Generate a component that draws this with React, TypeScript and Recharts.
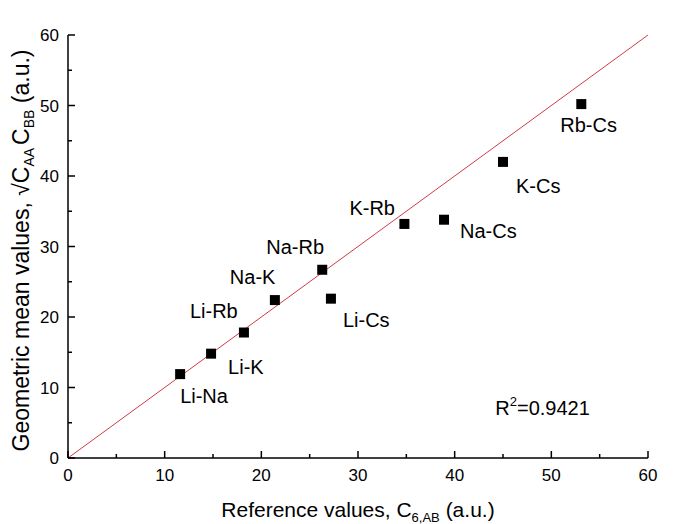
import React from "react";
import { ScatterChart, Scatter, XAxis, YAxis, ZAxis, ReferenceLine, ReferenceDot, Label } from "recharts";

const pairs = ["Li-Na", "Li-K", "Li-Rb", "Na-K", "Na-Rb", "Li-Cs", "K-Rb", "Na-Cs", "K-Cs", "Rb-Cs"];
const referenceValues = [11.6, 14.8, 18.2, 21.4, 26.3, 27.2, 34.8, 38.9, 45.0, 53.1];
const geometricMeans = [11.9, 14.8, 17.8, 22.4, 26.7, 22.6, 33.2, 33.8, 42.0, 50.2];
const axisTicks = [0, 5, 10, 15, 20, 25, 30, 35, 40, 45, 50, 55, 60];
const r2Value = "0.9421";

const points = pairs.map((name, i) => ({ name, x: referenceValues[i], y: geometricMeans[i] }));

const FONT = '"Liberation Sans", Arial, sans-serif';

// where each pair label sits relative to its marker (px, text start / baseline)
const labelOffset: Record<string, [number, number]> = {
  "Li-Na": [0, 29],
  "Li-K": [17, 20],
  "Li-Rb": [-54, -15],
  "Na-K": [-45, -16],
  "Na-Rb": [-56, -16],
  "Li-Cs": [12, 28],
  "K-Rb": [-55, -9],
  "Na-Cs": [16, 18],
  "K-Cs": [13, 31],
  "Rb-Cs": [-21, 28],
};

const PointWithLabel = (props: any) => {
  const { cx, cy, payload } = props;
  const [dx, dy] = labelOffset[payload.name] ?? [8, -8];
  return (
    <g>
      <rect x={cx - 5} y={cy - 5} width={10} height={10} fill="#000" />
      <text x={cx + dx} y={cy + dy} fontSize={20} fontFamily={FONT} fill="#000">
        {payload.name}
      </text>
    </g>
  );
};

const isMajor = (v: number) => v % 10 === 0;

const BottomTick = (props: any) => {
  const { x, y, payload } = props;
  const major = isMajor(payload.value);
  return (
    <g>
      <line x1={x} y1={y} x2={x} y2={y - (major ? 7 : 4)} stroke="#000" strokeWidth={1.5} />
      {major && (
        <text x={x} y={y + 23} textAnchor="middle" fontSize={17} fontFamily={FONT} fill="#000">
          {payload.value}
        </text>
      )}
    </g>
  );
};

const LeftTick = (props: any) => {
  const { x, y, payload } = props;
  const major = isMajor(payload.value);
  return (
    <g>
      <line x1={x} y1={y} x2={x + (major ? 7 : 4)} y2={y} stroke="#000" strokeWidth={1.5} />
      {major && (
        <text x={x - 9} y={y + 6} textAnchor="end" fontSize={17} fontFamily={FONT} fill="#000">
          {payload.value}
        </text>
      )}
    </g>
  );
};

const TopTick = (props: any) => {
  const { x, y, payload } = props;
  const len = isMajor(payload.value) ? 7 : 4;
  return <line x1={x} y1={y} x2={x} y2={y + len} stroke="#000" strokeWidth={1.5} />;
};

const RightTick = (props: any) => {
  const { x, y, payload } = props;
  const len = isMajor(payload.value) ? 7 : 4;
  return <line x1={x} y1={y} x2={x - len} y2={y} stroke="#000" strokeWidth={1.5} />;
};

const XTitle = (props: any) => {
  const vb = props.viewBox;
  const cx = vb.x + vb.width / 2;
  return (
    <text x={cx} y={vb.y + 59} textAnchor="middle" fontSize={21} fontFamily={FONT} fill="#000">
      Reference values, C
      <tspan fontSize={13} dy={5}>6,AB</tspan>
      <tspan dy={-5}> (a.u.)</tspan>
    </text>
  );
};

const YTitle = (props: any) => {
  const vb = props.viewBox;
  const cx = 29;
  const cy = vb.y + vb.height / 2 + 4;
  return (
    <text
      x={cx}
      y={cy}
      transform={`rotate(-90, ${cx}, ${cy})`}
      textAnchor="middle"
      fontSize={23}
      fontFamily={FONT}
      fill="#000"
    >
      Geometric mean values, √C
      <tspan fontSize={14} dy={5}>AA</tspan>
      <tspan dy={-5} dx={3}>C</tspan>
      <tspan fontSize={14} dy={5}>BB</tspan>
      <tspan dy={-5}> (a.u.)</tspan>
    </text>
  );
};

const R2Text = (props: any) => {
  const { cx, cy } = props;
  return (
    <text x={cx} y={cy} fontSize={20} fontFamily={FONT} fill="#000">
      R<tspan fontSize={13} dy={-9}>2</tspan>
      <tspan dy={9}>={r2Value}</tspan>
    </text>
  );
};

export default function App() {
  return (
    <div style={{ position: "absolute", left: 0, top: 0, width: 680, height: 524, background: "#fff" }}>
      <ScatterChart width={680} height={524} margin={{ top: 35, right: 32, bottom: 0, left: 0 }}>
        <XAxis
          xAxisId="x"
          dataKey="x"
          type="number"
          domain={[0, 60]}
          ticks={axisTicks}
          height={66}
          tickSize={0}
          tickMargin={0}
          tickLine={false}
          tick={<BottomTick />}
          axisLine={{ stroke: "#000", strokeWidth: 1.5 }}
          interval={0}
        >
          <Label content={<XTitle />} />
        </XAxis>
        <XAxis
          xAxisId="top"
          orientation="top"
          type="number"
          domain={[0, 60]}
          ticks={axisTicks}
          height={0}
          tickSize={0}
          tickMargin={0}
          tickLine={false}
          tick={<TopTick />}
          axisLine={{ stroke: "#000", strokeWidth: 1.5 }}
          interval={0}
        />
        <YAxis
          yAxisId="y"
          dataKey="y"
          type="number"
          domain={[0, 60]}
          ticks={axisTicks}
          width={68}
          tickSize={0}
          tickMargin={0}
          tickLine={false}
          tick={<LeftTick />}
          axisLine={{ stroke: "#000", strokeWidth: 1.5 }}
          interval={0}
        >
          <Label content={<YTitle />} />
        </YAxis>
        <YAxis
          yAxisId="right"
          orientation="right"
          type="number"
          domain={[0, 60]}
          ticks={axisTicks}
          width={0}
          tickSize={0}
          tickMargin={0}
          tickLine={false}
          tick={<RightTick />}
          axisLine={{ stroke: "#000", strokeWidth: 1.5 }}
          interval={0}
        />
        <ZAxis range={[100, 100]} />
        <ReferenceLine
          xAxisId="x"
          yAxisId="y"
          segment={[{ x: 0, y: 0 }, { x: 60, y: 60 }]}
          stroke="#d03a4a"
          strokeWidth={1}
        />
        <Scatter
          xAxisId="x"
          yAxisId="y"
          data={points}
          shape={<PointWithLabel />}
          isAnimationActive={false}
        />
        <ReferenceDot xAxisId="x" yAxisId="y" x={44.2} y={6.1} r={0} shape={<R2Text />} />
      </ScatterChart>
    </div>
  );
}
